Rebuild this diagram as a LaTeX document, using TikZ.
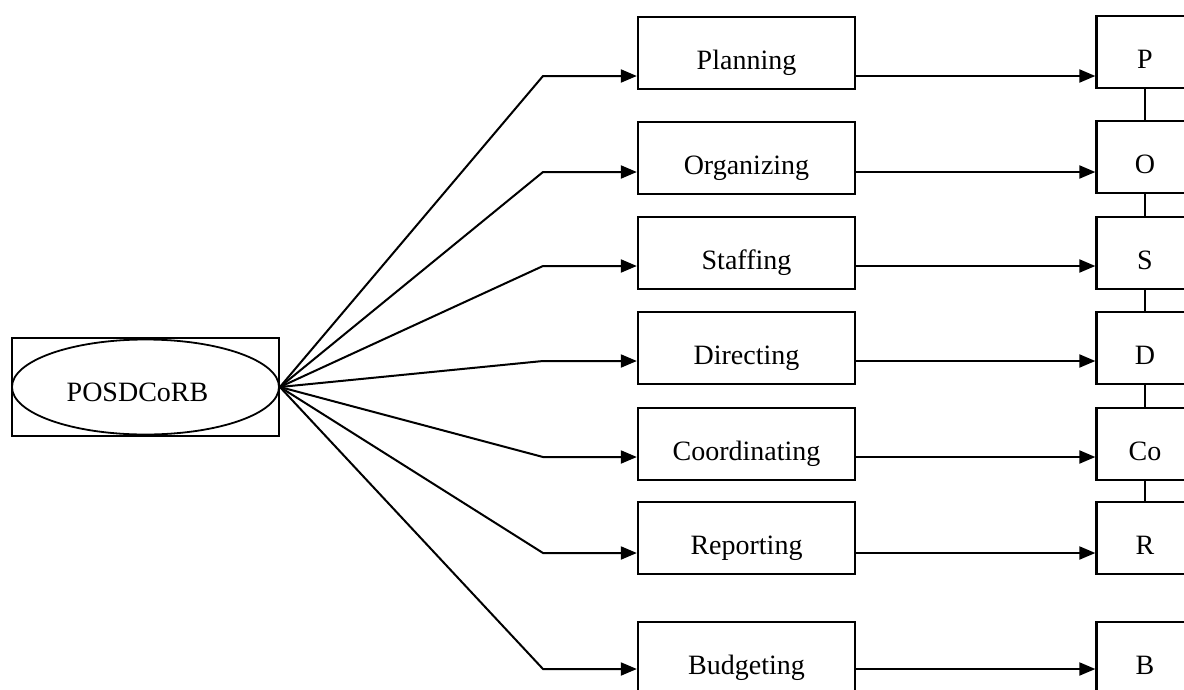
\documentclass[tikz,border=0pt]{standalone}
\usepackage{fontspec}
\setmainfont{Liberation Serif}
\usetikzlibrary{arrows.meta,shapes.geometric}
\begin{document}
\begin{tikzpicture}[x=1pt,y=-1pt,
  every node/.style={font=\fontsize{28}{32}\selectfont},
  boxed/.style={draw,line width=2.3pt,minimum height=72pt,inner sep=0pt,
    text height=34pt,text depth=2pt},
  midbox/.style={boxed,minimum width=217pt},
  letterbox/.style={boxed,minimum width=97pt},
  link/.style={line width=2pt},
  arrowlink/.style={line width=2pt,-{Triangle[length=16pt,width=13pt]}}]
\useasboundingbox (0,0) rectangle (1184,689);
\clip (0,0) rectangle (1184,689);
\fill[white] (0,0) rectangle (1184,689);

% central concept
\node[draw,line width=1.8pt,minimum width=267pt,minimum height=98pt] (frame) at (145.5,387) {};
\node[ellipse,draw,line width=1.8pt,minimum width=267pt,minimum height=95pt,inner sep=0pt] (posd) at (145.5,387) {};
\node[inner sep=0pt] (posdtext) at (137.5,392) {POSDCoRB};

% functions
\node[midbox] (plan) at (746.5,53)  {Planning};
\node[midbox] (org)  at (746.5,158) {Organizing};
\node[midbox] (staf) at (746.5,253) {Staffing};
\node[midbox] (dir)  at (746.5,348) {Directing};
\node[midbox] (coor) at (746.5,444) {Coordinating};
\node[midbox] (rep)  at (746.5,538) {Reporting};
\node[midbox] (bud)  at (746.5,658) {Budgeting};

% initials
\node[letterbox] (p)  at (1145,52)  {P};
\node[letterbox] (o)  at (1145,157) {O};
\node[letterbox] (s)  at (1145,253) {S};
\node[letterbox] (d)  at (1145,348) {D};
\node[letterbox] (co) at (1145,444) {Co};
\node[letterbox] (r)  at (1145,538) {R};
\node[letterbox] (b)  at (1145,658) {B};

% bend points of the fan
\coordinate (k1) at (543,76);
\coordinate (k2) at (543,172);
\coordinate (k3) at (543,266);
\coordinate (k4) at (543,361);
\coordinate (k5) at (543,457);
\coordinate (k6) at (543,553);
\coordinate (k7) at (543,669);

\foreach \k/\m/\l in {k1/plan/p,k2/org/o,k3/staf/s,k4/dir/d,k5/coor/co,k6/rep/r,k7/bud/b}{
  \draw[arrowlink] (posd.east) -- (\k) -- (\k -| \m.west);
  \draw[arrowlink] (\k -| \m.east) -- (\k -| \l.west);
}

% chain of initials
\draw[link] (p) -- (o);
\draw[link] (o) -- (s);
\draw[link] (s) -- (d);
\draw[link] (d) -- (co);
\draw[link] (co) -- (r);
\end{tikzpicture}
\end{document}
